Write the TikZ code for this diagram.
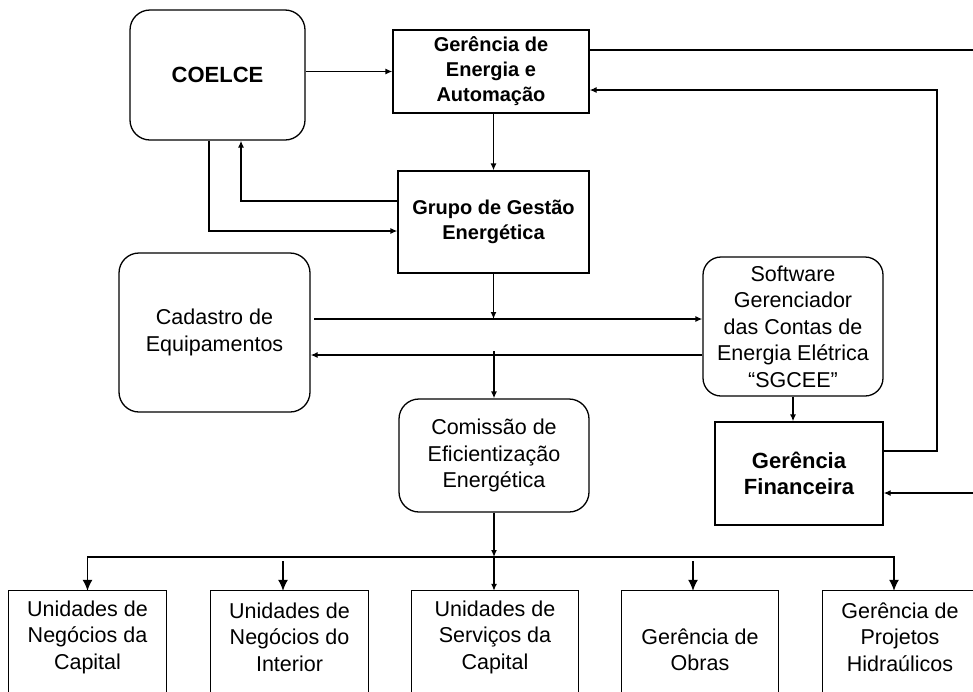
\documentclass[tikz,border=0pt]{standalone}
\usepackage{fontspec}
\setmainfont{Liberation Sans}
\usetikzlibrary{arrows.meta}
\begin{document}
\begin{tikzpicture}[x=1pt,y=-1pt,
  every node/.style={align=center, inner sep=0pt},
  box/.style={draw, line width=1.3pt},
  rbox/.style={draw, line width=1.3pt, rounded corners=20pt},
  reg/.style={font=\fontsize{21.5}{26.5}\selectfont},
  bld/.style={font=\fontsize{22}{26.5}\selectfont\bfseries},
  bldsm/.style={font=\fontsize{20}{25}\selectfont\bfseries},
  conn/.style={line width=1.3pt},
  arr/.style={conn, -{Latex[length=7pt,width=6pt]}},
  arrbig/.style={conn, -{Latex[length=11pt,width=10pt]}},
]
\useasboundingbox (0,0) rectangle (973,691);
\clip (0,0) rectangle (973,691);

% main nodes
\node[rbox, bld, minimum width=175pt, minimum height=130pt] (coelce) at (217.5,75) {COELCE};
\node[box, bldsm, minimum width=196pt, minimum height=83pt] (gea) at (491,71.5) {Gerência de\\Energia e\\Automação};
\node[box, bldsm, minimum width=191pt, minimum height=102pt] (gge) at (493.5,222) {Grupo de Gestão\\Energética};
\node[rbox, reg, minimum width=191pt, minimum height=159pt] (cad) at (214.5,332.5) {Cadastro de\\Equipamentos};
\node[rbox, reg, rounded corners=18pt, minimum width=180pt, minimum height=139pt] (sgcee) at (793,326.5) {Software\\Gerenciador\\das Contas de\\Energia Elétrica\\“SGCEE”};
\node[rbox, reg, minimum width=190pt, minimum height=113pt] (com) at (494,455.5) {Comissão de\\Eficientização\\Energética};
\node[box, bld, minimum width=168pt, minimum height=103pt] (gf) at (799,473.5) {Gerência\\Financeira};

% bottom nodes (bottom edge cut by the frame)
\node[reg, minimum width=157pt, minimum height=92pt] (b1) at (87.5,637) {Unidades de\\Negócios da\\Capital};
\node[reg, minimum width=157pt, minimum height=92pt] (b2) at (289.5,637) {Unidades de\\Negócios do\\Interior};
\node[reg, minimum width=166pt, minimum height=92pt] (b3) at (495,637) {Unidades de\\Serviços da\\Capital};
\node[reg, minimum width=156pt, minimum height=118pt] (b4) at (700,650) {Gerência de\\Obras};
\node[reg, minimum width=154pt, minimum height=92pt] (b5) at (900,637) {Gerência de\\Projetos\\Hidraúlicos};
\foreach \b in {b1,b2,b3,b4,b5}{
  \draw[conn] ([yshift=-40pt]\b.south west) -- (\b.north west) -- (\b.north east) -- ([yshift=-40pt]\b.south east);
}

% top connectors
\draw[arr] (coelce.east |- gea.west) -- (gea.west);
\coordinate (out1) at (975,50);
\draw[conn] (gea.east |- out1) -- (out1);
\coordinate (rv) at (937,451);
\coordinate (rt) at (937,90);
\draw[arr] (gf.east |- rv) -- (rv) -- (rt) -- (gea.east |- rt);
\coordinate (in2) at (975,493);
\draw[arr] (in2) -- (gf.east |- in2);
\draw[arr] (gea.south -| gge.north) -- (gge.north);

% COELCE loop
\coordinate (ca) at (241,201);
\draw[arr] (gge.west |- ca) -- (ca) -- (coelce.south -| ca);
\coordinate (cb) at (209,231);
\draw[arr] (coelce.south -| cb) -- (cb) -- (gge.west |- cb);

% middle
\coordinate (h1) at (493.5,319);
\draw[arr] (gge.south) -- (h1);
\coordinate (h1l) at (314,319);
\draw[arr] (h1l) -- (sgcee.west |- h1l);
\coordinate (h2) at (0,355);
\draw[arr] (sgcee.west |- h2) -- (cad.east |- h2);
\coordinate (h3) at (494,351);
\draw[arr] (h3) -- (com.north);
\draw[arr] (sgcee.south) -- (sgcee.south |- gf.north);

% bottom
\coordinate (jm) at (494,557);
\coordinate (jr) at (894,557);
\draw[arr] (com.south) -- (jm);
\draw[arr] (jm) -- (jm |- b3.north);
\draw[arrbig] (jm) -- (jm -| b1.north) -- (b1.north);
\draw[arrbig] (jm) -- (jr) -- (jr |- b5.north);
\coordinate (a2) at (283,561);
\draw[arrbig] (a2) -- (a2 |- b2.north);
\coordinate (a4) at (693,561);
\draw[arrbig] (a4) -- (a4 |- b4.north);
\end{tikzpicture}
\end{document}
